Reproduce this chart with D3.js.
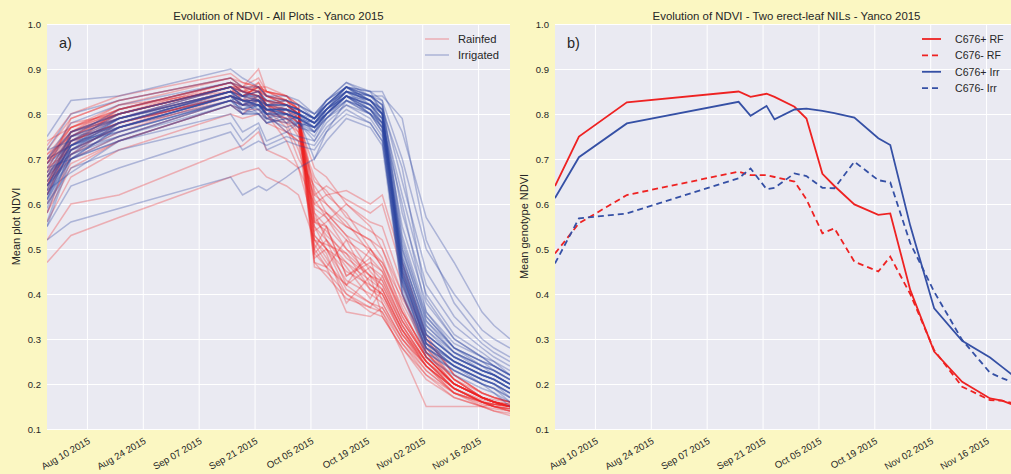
<!DOCTYPE html>
<meta charset="utf-8">
<style>
body { margin: 0; background: #fbf7c2; }
svg { display: block; font-family: "Liberation Sans", Arial, sans-serif; }
</style>
<svg width="1011" height="474"></svg>
<script src="https://cdnjs.cloudflare.com/ajax/libs/d3/7.8.5/d3.min.js"></script>
<script>

// observation dates (shared by every series)
var obsDates = ["2015-07-31","2015-08-06","2015-08-18","2015-09-15","2015-09-18","2015-09-22",
  "2015-09-24","2015-09-29","2015-10-02","2015-10-06","2015-10-09","2015-10-14","2015-10-20",
  "2015-10-23","2015-10-28","2015-11-03","2015-11-10","2015-11-17","2015-11-20","2015-11-24"];

var tickDates = ["2015-08-10","2015-08-24","2015-09-07","2015-09-21","2015-10-05","2015-10-19","2015-11-02","2015-11-16"];
var yTicks = [0.1,0.2,0.3,0.4,0.5,0.6,0.7,0.8,0.9,1.0];

// panel a) one row per plot
var rainfed = [
  [0.66,0.76,0.79,0.86,0.85,0.84,0.83,0.82,0.80,0.50,0.55,0.44,0.48,0.38,0.30,0.24,0.19,0.16,0.155,0.15],
  [0.74,0.77,0.80,0.87,0.86,0.85,0.82,0.83,0.81,0.55,0.52,0.47,0.43,0.41,0.32,0.25,0.19,0.16,0.15,0.145],
  [0.62,0.74,0.78,0.84,0.84,0.86,0.82,0.81,0.79,0.48,0.50,0.41,0.38,0.36,0.29,0.23,0.18,0.155,0.15,0.14],
  [0.64,0.75,0.81,0.86,0.83,0.87,0.84,0.83,0.80,0.58,0.55,0.50,0.46,0.44,0.34,0.26,0.20,0.17,0.16,0.155],
  [0.70,0.76,0.82,0.88,0.87,0.86,0.85,0.84,0.82,0.62,0.60,0.55,0.52,0.48,0.36,0.27,0.21,0.17,0.16,0.15],
  [0.68,0.72,0.77,0.85,0.86,0.83,0.83,0.81,0.79,0.52,0.49,0.38,0.44,0.35,0.28,0.22,0.18,0.16,0.15,0.145],
  [0.58,0.71,0.78,0.84,0.83,0.84,0.82,0.80,0.78,0.47,0.46,0.52,0.42,0.40,0.31,0.25,0.19,0.16,0.155,0.15],
  [0.69,0.78,0.80,0.86,0.86,0.90,0.85,0.84,0.81,0.56,0.58,0.53,0.45,0.42,0.33,0.25,0.20,0.17,0.16,0.15],
  [0.62,0.74,0.80,0.86,0.85,0.85,0.84,0.82,0.80,0.60,0.62,0.58,0.50,0.46,0.35,0.26,0.20,0.17,0.16,0.155],
  [0.71,0.75,0.79,0.85,0.84,0.86,0.84,0.82,0.80,0.51,0.47,0.42,0.46,0.43,0.33,0.25,0.19,0.165,0.16,0.15],
  [0.67,0.79,0.83,0.88,0.86,0.88,0.85,0.83,0.81,0.54,0.56,0.60,0.55,0.50,0.38,0.28,0.21,0.18,0.17,0.16],
  [0.66,0.71,0.76,0.84,0.83,0.83,0.82,0.80,0.78,0.46,0.45,0.40,0.37,0.36,0.27,0.15,0.15,0.15,0.155,0.15],
  [0.70,0.73,0.81,0.87,0.85,0.86,0.84,0.83,0.79,0.57,0.53,0.49,0.41,0.39,0.31,0.24,0.19,0.16,0.15,0.14],
  [0.63,0.75,0.80,0.86,0.85,0.84,0.83,0.82,0.80,0.49,0.52,0.46,0.39,0.44,0.34,0.26,0.20,0.17,0.16,0.15],
  [0.73,0.80,0.84,0.89,0.87,0.86,0.86,0.84,0.82,0.59,0.57,0.52,0.48,0.45,0.36,0.27,0.21,0.17,0.165,0.16],
  [0.65,0.70,0.75,0.83,0.82,0.82,0.81,0.79,0.77,0.53,0.50,0.43,0.40,0.38,0.30,0.24,0.18,0.16,0.15,0.145],
  [0.68,0.76,0.80,0.86,0.84,0.85,0.82,0.78,0.72,0.62,0.64,0.61,0.58,0.60,0.45,0.29,0.21,0.17,0.16,0.15],
  [0.64,0.73,0.78,0.84,0.83,0.83,0.80,0.74,0.68,0.60,0.58,0.55,0.52,0.50,0.40,0.27,0.20,0.17,0.16,0.15],
  [0.70,0.77,0.81,0.87,0.85,0.84,0.83,0.80,0.76,0.66,0.62,0.63,0.60,0.62,0.47,0.31,0.22,0.18,0.17,0.16],
  [0.66,0.74,0.79,0.85,0.84,0.86,0.81,0.77,0.70,0.64,0.60,0.56,0.49,0.47,0.37,0.26,0.20,0.17,0.16,0.15],
  [0.62,0.72,0.77,0.83,0.82,0.83,0.80,0.76,0.74,0.61,0.57,0.50,0.44,0.42,0.33,0.25,0.19,0.16,0.155,0.15],
  [0.69,0.76,0.80,0.86,0.84,0.85,0.82,0.81,0.78,0.68,0.66,0.60,0.56,0.55,0.42,0.30,0.22,0.18,0.17,0.16],
  [0.47,0.53,0.57,0.66,0.67,0.68,0.66,0.64,0.62,0.52,0.48,0.40,0.36,0.35,0.28,0.21,0.17,0.15,0.14,0.135],
  [0.52,0.60,0.62,0.72,0.73,0.76,0.72,0.70,0.68,0.55,0.50,0.45,0.42,0.40,0.32,0.24,0.18,0.15,0.145,0.14],
  [0.56,0.66,0.72,0.80,0.79,0.80,0.78,0.76,0.74,0.50,0.46,0.42,0.38,0.37,0.29,0.22,0.17,0.15,0.14,0.13],
  [0.58,0.68,0.74,0.82,0.81,0.81,0.79,0.78,0.76,0.56,0.54,0.48,0.44,0.43,0.34,0.26,0.20,0.17,0.16,0.15],
  [0.67,0.75,0.80,0.86,0.86,0.85,0.85,0.83,0.81,0.53,0.50,0.47,0.41,0.40,0.31,0.24,0.19,0.16,0.15,0.145],
  [0.69,0.77,0.81,0.87,0.85,0.87,0.84,0.82,0.80,0.49,0.46,0.36,0.35,0.37,0.30,0.23,0.18,0.16,0.15,0.14],
  [0.65,0.74,0.78,0.85,0.85,0.84,0.83,0.82,0.79,0.56,0.55,0.44,0.47,0.45,0.35,0.26,0.20,0.17,0.16,0.15],
  [0.72,0.79,0.83,0.88,0.86,0.85,0.84,0.83,0.81,0.52,0.51,0.49,0.44,0.41,0.32,0.24,0.19,0.16,0.155,0.15],
  [0.60,0.69,0.74,0.82,0.80,0.83,0.80,0.79,0.77,0.58,0.52,0.42,0.50,0.46,0.36,0.27,0.20,0.17,0.16,0.15],
  [0.71,0.77,0.82,0.85,0.84,0.83,0.82,0.80,0.78,0.63,0.58,0.53,0.50,0.47,0.39,0.30,0.22,0.18,0.17,0.16],
  [0.64,0.76,0.81,0.87,0.86,0.86,0.85,0.84,0.81,0.47,0.44,0.39,0.37,0.41,0.32,0.25,0.20,0.17,0.16,0.15],
  [0.69,0.74,0.78,0.84,0.82,0.84,0.81,0.79,0.75,0.65,0.63,0.57,0.54,0.52,0.40,0.28,0.21,0.17,0.16,0.155]
];

var irrigated = [
  [0.70,0.73,0.77,0.84,0.82,0.83,0.81,0.81,0.80,0.78,0.81,0.85,0.82,0.79,0.46,0.31,0.26,0.23,0.22,0.20],
  [0.58,0.72,0.78,0.85,0.83,0.82,0.80,0.82,0.81,0.79,0.82,0.86,0.83,0.80,0.48,0.33,0.27,0.24,0.23,0.21],
  [0.67,0.71,0.75,0.83,0.80,0.81,0.79,0.80,0.79,0.77,0.80,0.84,0.81,0.77,0.44,0.29,0.25,0.22,0.21,0.19],
  [0.61,0.74,0.80,0.86,0.84,0.84,0.82,0.82,0.81,0.79,0.83,0.87,0.84,0.82,0.52,0.35,0.28,0.25,0.23,0.21],
  [0.64,0.70,0.74,0.82,0.80,0.80,0.78,0.79,0.78,0.76,0.79,0.83,0.80,0.76,0.42,0.28,0.24,0.21,0.20,0.18],
  [0.55,0.70,0.77,0.84,0.83,0.82,0.81,0.80,0.80,0.78,0.80,0.85,0.83,0.80,0.47,0.32,0.27,0.24,0.22,0.20],
  [0.62,0.75,0.81,0.87,0.85,0.84,0.82,0.83,0.82,0.79,0.82,0.86,0.84,0.81,0.50,0.34,0.28,0.25,0.24,0.22],
  [0.72,0.74,0.76,0.83,0.81,0.82,0.80,0.79,0.79,0.76,0.81,0.84,0.82,0.78,0.45,0.30,0.25,0.22,0.21,0.19],
  [0.59,0.72,0.79,0.85,0.84,0.83,0.81,0.81,0.80,0.78,0.81,0.86,0.82,0.79,0.55,0.38,0.30,0.26,0.25,0.23],
  [0.66,0.72,0.75,0.82,0.81,0.80,0.79,0.78,0.78,0.77,0.80,0.84,0.80,0.77,0.43,0.28,0.24,0.21,0.20,0.18],
  [0.60,0.73,0.79,0.86,0.84,0.85,0.83,0.82,0.81,0.79,0.82,0.85,0.83,0.81,0.49,0.32,0.26,0.23,0.22,0.20],
  [0.69,0.73,0.76,0.83,0.82,0.81,0.80,0.80,0.79,0.77,0.81,0.85,0.81,0.78,0.46,0.30,0.25,0.22,0.21,0.19],
  [0.63,0.76,0.80,0.86,0.85,0.83,0.82,0.82,0.80,0.78,0.80,0.83,0.81,0.79,0.47,0.31,0.26,0.23,0.22,0.20],
  [0.68,0.70,0.77,0.84,0.82,0.84,0.80,0.81,0.80,0.78,0.82,0.86,0.84,0.82,0.58,0.40,0.31,0.27,0.25,0.22],
  [0.56,0.71,0.78,0.84,0.83,0.83,0.81,0.81,0.81,0.79,0.81,0.84,0.82,0.80,0.45,0.29,0.25,0.22,0.21,0.19],
  [0.63,0.67,0.74,0.82,0.80,0.80,0.78,0.79,0.77,0.76,0.79,0.82,0.79,0.75,0.41,0.27,0.23,0.20,0.19,0.17],
  [0.62,0.70,0.74,0.80,0.76,0.78,0.74,0.76,0.75,0.74,0.78,0.82,0.80,0.77,0.44,0.29,0.24,0.21,0.20,0.18],
  [0.60,0.68,0.72,0.78,0.74,0.77,0.72,0.74,0.73,0.72,0.76,0.80,0.78,0.74,0.42,0.28,0.24,0.21,0.20,0.17],
  [0.65,0.73,0.77,0.84,0.80,0.82,0.78,0.80,0.79,0.70,0.76,0.83,0.81,0.78,0.50,0.34,0.27,0.23,0.22,0.20],
  [0.64,0.73,0.78,0.85,0.82,0.83,0.79,0.77,0.78,0.74,0.79,0.84,0.82,0.79,0.48,0.33,0.27,0.24,0.23,0.21],
  [0.67,0.75,0.79,0.86,0.84,0.84,0.82,0.82,0.81,0.79,0.82,0.86,0.85,0.85,0.76,0.57,0.47,0.36,0.33,0.30],
  [0.64,0.73,0.78,0.85,0.83,0.83,0.81,0.81,0.80,0.78,0.81,0.85,0.84,0.83,0.70,0.50,0.40,0.32,0.30,0.28],
  [0.70,0.78,0.82,0.87,0.86,0.85,0.83,0.83,0.82,0.80,0.83,0.86,0.84,0.82,0.65,0.45,0.35,0.29,0.27,0.25],
  [0.62,0.72,0.77,0.84,0.82,0.82,0.80,0.80,0.79,0.77,0.80,0.84,0.83,0.80,0.62,0.42,0.33,0.28,0.26,0.24],
  [0.66,0.74,0.79,0.85,0.84,0.83,0.82,0.81,0.80,0.79,0.82,0.85,0.84,0.84,0.79,0.52,0.38,0.30,0.28,0.26],
  [0.75,0.83,0.84,0.90,0.88,0.86,0.84,0.84,0.83,0.80,0.83,0.87,0.85,0.83,0.53,0.36,0.29,0.26,0.24,0.22],
  [0.52,0.56,0.59,0.66,0.62,0.64,0.63,0.66,0.68,0.70,0.74,0.79,0.77,0.73,0.40,0.28,0.23,0.20,0.19,0.16],
  [0.55,0.64,0.68,0.76,0.72,0.74,0.73,0.75,0.74,0.73,0.77,0.81,0.78,0.74,0.43,0.29,0.24,0.20,0.18,0.15],
  [0.72,0.80,0.83,0.88,0.86,0.86,0.84,0.83,0.82,0.80,0.82,0.86,0.83,0.80,0.47,0.31,0.26,0.23,0.22,0.20],
  [0.68,0.75,0.79,0.85,0.83,0.82,0.81,0.81,0.80,0.78,0.81,0.84,0.82,0.80,0.44,0.30,0.25,0.22,0.21,0.19],
  [0.61,0.70,0.75,0.83,0.81,0.82,0.80,0.80,0.79,0.77,0.80,0.84,0.81,0.77,0.45,0.31,0.26,0.23,0.22,0.20],
  [0.63,0.72,0.77,0.84,0.83,0.82,0.81,0.80,0.79,0.78,0.81,0.86,0.83,0.80,0.51,0.35,0.28,0.25,0.24,0.22],
  [0.69,0.76,0.80,0.86,0.84,0.85,0.82,0.82,0.81,0.79,0.81,0.85,0.83,0.81,0.46,0.30,0.25,0.22,0.21,0.19],
  [0.65,0.74,0.78,0.85,0.83,0.83,0.81,0.81,0.80,0.76,0.80,0.84,0.81,0.78,0.43,0.27,0.23,0.20,0.19,0.17],
  [0.66,0.75,0.77,0.83,0.84,0.81,0.82,0.78,0.80,0.77,0.79,0.83,0.80,0.78,0.60,0.36,0.28,0.24,0.23,0.21],
  [0.61,0.73,0.79,0.85,0.81,0.83,0.79,0.81,0.78,0.75,0.80,0.85,0.83,0.81,0.68,0.39,0.30,0.26,0.24,0.22],
  [0.70,0.76,0.79,0.84,0.83,0.80,0.81,0.80,0.77,0.79,0.83,0.86,0.85,0.80,0.44,0.29,0.24,0.21,0.20,0.18],
  [0.64,0.71,0.76,0.83,0.82,0.82,0.80,0.76,0.78,0.77,0.80,0.84,0.80,0.76,0.40,0.26,0.22,0.19,0.18,0.16]
];

// panel b) genotype means
var c676PlusRF  = [0.640,0.750,0.826,0.850,0.838,0.845,0.838,0.816,0.790,0.667,0.640,0.599,0.576,0.579,0.409,0.272,0.205,0.168,0.163,0.150];
var c676MinusRF = [0.490,0.557,0.620,0.672,0.664,0.664,0.660,0.650,0.610,0.535,0.546,0.472,0.450,0.483,0.400,0.275,0.194,0.164,0.163,0.155];
var c676PlusIrr = [0.613,0.704,0.779,0.827,0.796,0.818,0.788,0.810,0.812,0.807,0.802,0.792,0.746,0.731,0.552,0.368,0.296,0.259,0.238,0.210];
var c676MinusIrr= [0.468,0.568,0.579,0.657,0.679,0.633,0.636,0.668,0.662,0.636,0.635,0.694,0.653,0.648,0.513,0.405,0.298,0.225,0.213,0.200];

var RED = "#ee2222", BLUE = "#2f47a0";

var parse = d3.timeParse("%Y-%m-%d");
var dates = obsDates.map(parse);
var ticks = tickDates.map(parse);

var svg = d3.select("svg");
var top_ = 24, bottom = 429, pw = 463;

var y = d3.scaleLinear().domain([0.1, 1.0]).range([bottom, top_]);

function panel(left, id, title, ylab, letter) {
  var x = d3.scaleTime().domain(d3.extent(dates)).range([left, left + pw]);
  var g = svg.append("g");

  g.append("rect").attr("x", left).attr("y", top_).attr("width", pw).attr("height", bottom - top_)
    .attr("fill", "#eaeaf2");

  g.append("clipPath").attr("id", id).append("rect")
    .attr("x", left).attr("y", top_).attr("width", pw).attr("height", bottom - top_);

  var xa = g.append("g").attr("transform", "translate(0," + bottom + ")")
    .call(d3.axisBottom(x).tickValues(ticks).tickSize(-(bottom - top_)).tickFormat(d3.timeFormat("%b %d %Y")));
  xa.select(".domain").remove();
  xa.selectAll("line").attr("stroke", "#fff").attr("stroke-width", 1);
  xa.selectAll("text").attr("x", 0).attr("y", 0).attr("dy", "0.71em")
    .attr("text-anchor", "end").attr("transform", "translate(0,8) rotate(-30)")
    .attr("fill", "#262626").style("font-size", "9.6px");

  var ya = g.append("g").attr("transform", "translate(" + left + ",0)")
    .call(d3.axisLeft(y).tickValues(yTicks).tickSize(-pw).tickPadding(6).tickFormat(d3.format(".1f")));
  ya.select(".domain").remove();
  ya.selectAll("line").attr("stroke", "#fff").attr("stroke-width", 1);
  ya.selectAll("text").attr("fill", "#262626").style("font-size", "9.5px");

  g.append("text").attr("x", left + pw / 2).attr("y", 20).attr("text-anchor", "middle")
    .attr("fill", "#262626").style("font-size", "11.4px").text(title);

  g.append("text").attr("transform", "translate(" + (left - 27) + "," + ((top_ + bottom) / 2) + ") rotate(-90)")
    .attr("text-anchor", "middle").attr("fill", "#262626").style("font-size", "11px").text(ylab);

  g.append("text").attr("x", left + 12).attr("y", 48).attr("fill", "#262626")
    .style("font-size", "14.5px").text(letter);

  var line = d3.line().x(function(d, i) { return x(dates[i]); }).y(function(d) { return y(d); });
  var plot = g.append("g").attr("clip-path", "url(#" + id + ")");
  return { x: x, g: g, plot: plot, line: line };
}

// ---- panel a
var a = panel(47, "clipA", "Evolution of NDVI - All Plots - Yanco 2015", "Mean plot NDVI", "a)");

a.plot.selectAll(".rf").data(rainfed).enter().append("path")
  .attr("d", a.line).attr("fill", "none").attr("stroke", RED)
  .attr("stroke-opacity", 0.3).attr("stroke-width", 1.5);

a.plot.selectAll(".irr").data(irrigated).enter().append("path")
  .attr("d", a.line).attr("fill", "none").attr("stroke", BLUE)
  .attr("stroke-opacity", 0.33).attr("stroke-width", 1.5);

var legA = [["Rainfed", RED, 0.3], ["Irrigated", BLUE, 0.33]];
legA.forEach(function(l, i) {
  var yy = 39 + i * 16;
  a.g.append("line").attr("x1", 425).attr("x2", 449).attr("y1", yy).attr("y2", yy)
    .attr("stroke", l[1]).attr("stroke-opacity", l[2]).attr("stroke-width", 1.5);
  a.g.append("text").attr("x", 458).attr("y", yy + 4).attr("fill", "#262626")
    .style("font-size", "11.2px").text(l[0]);
});

// ---- panel b
var b = panel(555, "clipB", "Evolution of NDVI - Two erect-leaf NILs - Yanco 2015", "Mean genotype NDVI", "b)");

var series = [
  { name: "C676+ RF",  vals: c676PlusRF,   color: RED,  dash: null },
  { name: "C676- RF",  vals: c676MinusRF,  color: RED,  dash: "6,4" },
  { name: "C676+ Irr", vals: c676PlusIrr,  color: "#3550a5", dash: null },
  { name: "C676- Irr", vals: c676MinusIrr, color: "#3550a5", dash: "6,4" }
];

b.plot.selectAll(".gen").data(series).enter().append("path")
  .attr("d", function(s) { return b.line(s.vals); })
  .attr("fill", "none").attr("stroke", function(s) { return s.color; })
  .attr("stroke-width", 1.8).attr("stroke-dasharray", function(s) { return s.dash; });

series.forEach(function(s, i) {
  var yy = 39 + i * 16.4;
  b.g.append("line").attr("x1", 922).attr("x2", 941).attr("y1", yy).attr("y2", yy)
    .attr("stroke", s.color).attr("stroke-width", 1.8).attr("stroke-dasharray", s.dash);
  b.g.append("text").attr("x", 955).attr("y", yy + 4).attr("fill", "#262626")
    .style("font-size", "10.6px").text(s.name);
});

</script>
